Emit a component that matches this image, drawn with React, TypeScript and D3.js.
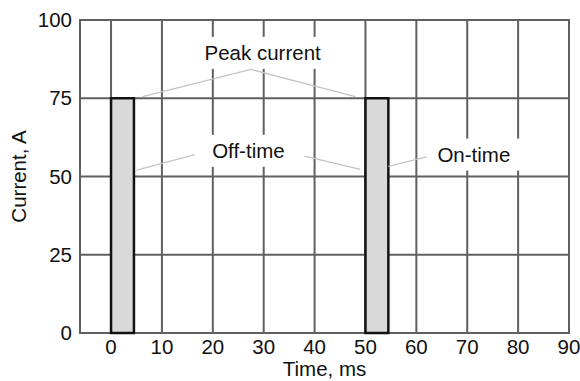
import React, { useEffect, useRef } from 'react';
import * as d3 from 'd3';

// pulse train: start (ms), end (ms), current (A)
const pulses = [
  { start: 0, end: 4.5, current: 75 },
  { start: 50, end: 54.5, current: 75 },
];
const xTicks = [0, 10, 20, 30, 40, 50, 60, 70, 80, 90];
const yTicks = [0, 25, 50, 75, 100];
const xGrid = [0, 10, 20, 30, 40, 50, 60, 70, 80];
const yGrid = [25, 50, 75];

// annotations: label anchor in data coords, leader segments in data coords
const labels = [
  { text: 'Peak current', t: 29.8, a: 89.5, bw: 136 },
  { text: 'Off-time', t: 27, a: 58.2, bw: 100 },
  { text: 'On-time', t: 71.3, a: 57, bw: 94 },
];
const leaders: [number, number][][] = [
  [[6.2, 75.5], [27.5, 84.2], [48, 75.5]],
  [[5, 52], [16.5, 57]],
  [[38, 56.5], [49, 52.3]],
  [[54.5, 53.2], [62, 56.3]],
];

const App: React.FC = () => {
  const ref = useRef<SVGSVGElement | null>(null);

  useEffect(() => {
    if (!ref.current) return;
    const svg = d3.select(ref.current);
    svg.selectAll('*').remove();

    const width = 580;
    const height = 381;
    const margin = { top: 20, right: 11, bottom: 48, left: 80 };
    const innerWidth = width - margin.left - margin.right;
    const innerHeight = height - margin.top - margin.bottom;
    const font = '"Liberation Sans", Arial, sans-serif';
    const fs = '20.5px';

    const x = d3.scaleLinear().domain([-6.1, 90]).range([0, innerWidth]);
    const y = d3.scaleLinear().domain([0, 100]).range([innerHeight, 0]);

    const g = svg.append('g').attr('transform', `translate(${margin.left},${margin.top})`);

    // grid
    g.selectAll('.vgrid')
      .data(xGrid)
      .enter()
      .append('line')
      .attr('x1', d => x(d))
      .attr('x2', d => x(d))
      .attr('y1', 0)
      .attr('y2', innerHeight)
      .attr('stroke', '#606060')
      .attr('stroke-width', 2);

    g.selectAll('.hgrid')
      .data(yGrid)
      .enter()
      .append('line')
      .attr('x1', 0)
      .attr('x2', innerWidth)
      .attr('y1', d => y(d))
      .attr('y2', d => y(d))
      .attr('stroke', '#606060')
      .attr('stroke-width', 2);

    // white boxes behind labels break the grid lines
    g.selectAll('.lbg')
      .data(labels)
      .enter()
      .append('rect')
      .attr('x', d => x(d.t) - d.bw / 2)
      .attr('y', d => y(d.a) - 16)
      .attr('width', d => d.bw)
      .attr('height', 32)
      .attr('fill', '#fff');

    // frame
    g.append('rect')
      .attr('x', 0)
      .attr('y', 0)
      .attr('width', innerWidth)
      .attr('height', innerHeight)
      .attr('fill', 'none')
      .attr('stroke', '#606060')
      .attr('stroke-width', 2);

    // pulses
    g.selectAll('.pulse')
      .data(pulses)
      .enter()
      .append('rect')
      .attr('x', d => x(d.start))
      .attr('y', d => y(d.current))
      .attr('width', d => x(d.end) - x(d.start))
      .attr('height', d => innerHeight - y(d.current))
      .attr('fill', '#d9d9d9')
      .attr('stroke', '#111')
      .attr('stroke-width', 2.5);

    // leader lines
    const line = d3.line<[number, number]>().x(d => x(d[0])).y(d => y(d[1]));
    g.selectAll('.leader')
      .data(leaders)
      .enter()
      .append('path')
      .attr('d', d => line(d))
      .attr('fill', 'none')
      .attr('stroke', '#c4c4c4')
      .attr('stroke-width', 1.3);

    g.selectAll('.lbl')
      .data(labels)
      .enter()
      .append('text')
      .attr('x', d => x(d.t))
      .attr('y', d => y(d.a))
      .attr('dy', '0.35em')
      .attr('text-anchor', 'middle')
      .style('font-family', font)
      .style('font-size', fs)
      .attr('fill', '#111')
      .text(d => d.text);

    // tick labels
    g.selectAll('.xt')
      .data(xTicks)
      .enter()
      .append('text')
      .attr('x', d => x(d))
      .attr('y', innerHeight + 21)
      .attr('text-anchor', 'middle')
      .style('font-family', font)
      .style('font-size', fs)
      .attr('fill', '#111')
      .text(d => String(d));

    g.selectAll('.yt')
      .data(yTicks)
      .enter()
      .append('text')
      .attr('x', -8)
      .attr('y', d => y(d))
      .attr('dy', '0.35em')
      .attr('text-anchor', 'end')
      .style('font-family', font)
      .style('font-size', fs)
      .attr('fill', '#111')
      .text(d => String(d));

    // axis titles
    g.append('text')
      .attr('x', innerWidth / 2)
      .attr('y', innerHeight + 43)
      .attr('text-anchor', 'middle')
      .style('font-family', font)
      .style('font-size', fs)
      .attr('fill', '#111')
      .text('Time, ms');

    g.append('text')
      .attr('transform', `translate(${-54},${innerHeight / 2}) rotate(-90)`)
      .attr('text-anchor', 'middle')
      .style('font-family', font)
      .style('font-size', fs)
      .attr('fill', '#111')
      .text('Current, A');
  }, []);

  return (
    <svg
      ref={ref}
      width={580}
      height={381}
      style={{ position: 'absolute', left: 0, top: 0, background: '#fff' }}
    />
  );
};

export default App;
